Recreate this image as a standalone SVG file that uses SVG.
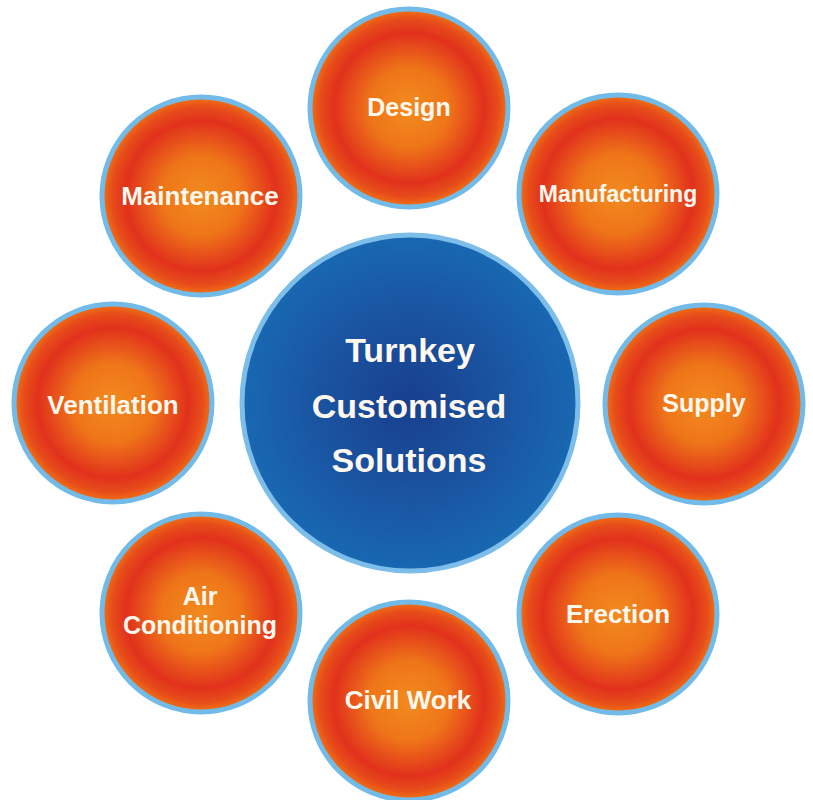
<svg xmlns="http://www.w3.org/2000/svg" width="813" height="800" viewBox="0 0 813 800">
  <defs>
    <radialGradient id="orange" cx="0.5" cy="0.5" r="0.5">
      <stop offset="0" stop-color="#f28b1f"/>
      <stop offset="0.4" stop-color="#ef7519"/>
      <stop offset="0.76" stop-color="#e1311c"/>
      <stop offset="0.9" stop-color="#e74c1a"/>
      <stop offset="1" stop-color="#f07414"/>
    </radialGradient>
    <radialGradient id="blue" cx="0.5" cy="0.5" r="0.5">
      <stop offset="0" stop-color="#183f8d"/>
      <stop offset="0.6" stop-color="#1a56a3"/>
      <stop offset="1" stop-color="#1868b1"/>
    </radialGradient>
    <style>
      .orb { fill: url(#orange); stroke: #72bbe8; stroke-width: 5; }
      .hub { fill: url(#blue); stroke: #7cbde9; stroke-width: 5; }
      .lbl { font-family: "Liberation Sans", Arial, sans-serif; font-weight: bold; fill: #fff8ee; text-anchor: middle; }
    </style>
  </defs>
  <rect width="813" height="800" fill="#ffffff"/>
  <g id="connectors"/>
  <g id="hub">
    <circle class="hub" cx="410" cy="403" r="168"/>
    <text class="lbl" x="410" y="362" font-size="34">Turnkey</text>
    <text class="lbl" x="409" y="418" font-size="34">Customised</text>
    <text class="lbl" x="409" y="472" font-size="34">Solutions</text>
  </g>
  <g id="design">
    <circle class="orb" cx="409" cy="108" r="99"/>
    <text class="lbl" x="409" y="116" font-size="25">Design</text>
  </g>
  <g id="manufacturing">
    <circle class="orb" cx="618" cy="194" r="99"/>
    <text class="lbl" x="618" y="202" font-size="23">Manufacturing</text>
  </g>
  <g id="supply">
    <circle class="orb" cx="704" cy="404" r="99"/>
    <text class="lbl" x="704" y="412" font-size="25">Supply</text>
  </g>
  <g id="erection">
    <circle class="orb" cx="618" cy="614" r="99"/>
    <text class="lbl" x="618" y="623" font-size="26">Erection</text>
  </g>
  <g id="civil-work">
    <circle class="orb" cx="409" cy="701" r="99"/>
    <text class="lbl" x="408" y="709" font-size="26">Civil Work</text>
  </g>
  <g id="air-conditioning">
    <circle class="orb" cx="201" cy="613" r="99"/>
    <text class="lbl" x="200" y="605" font-size="25">Air</text>
    <text class="lbl" x="200" y="634" font-size="25">Conditioning</text>
  </g>
  <g id="ventilation">
    <circle class="orb" cx="113" cy="403" r="99"/>
    <text class="lbl" x="113" y="414" font-size="26">Ventilation</text>
  </g>
  <g id="maintenance">
    <circle class="orb" cx="201" cy="196" r="99"/>
    <text class="lbl" x="200" y="205" font-size="26">Maintenance</text>
  </g>
</svg>
